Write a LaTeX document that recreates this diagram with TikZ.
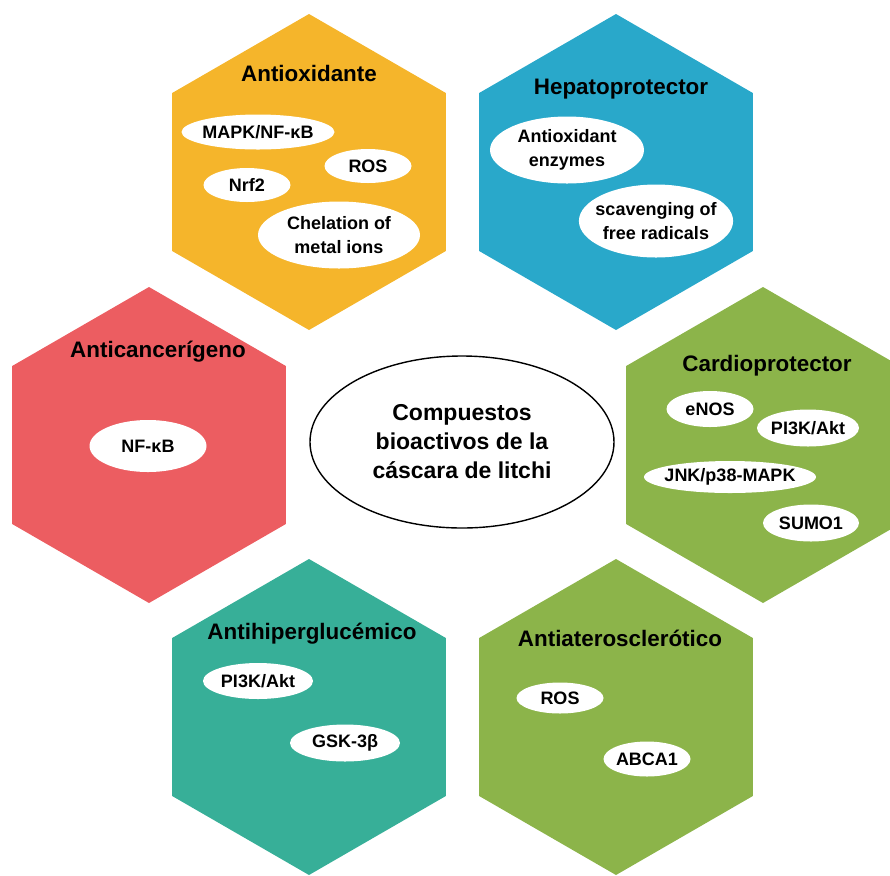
\documentclass[tikz,border=0pt]{standalone}
\usepackage{fontspec}
\setmainfont{Liberation Sans}
\usetikzlibrary{shapes.geometric}

\definecolor{hexorange}{HTML}{F5B52B}
\definecolor{hexblue}{HTML}{29A8CA}
\definecolor{hexred}{HTML}{EC5D61}
\definecolor{hexgreen}{HTML}{8CB44A}
\definecolor{hexteal}{HTML}{37AF98}

\begin{document}
\begin{tikzpicture}[x=0.5pt, y=-0.5pt,
    hexa/.style={regular polygon, regular polygon sides=6, regular polygon rotate=30,
        minimum size=158pt, inner sep=0pt, outer sep=0pt},
    hextitle/.style={font=\fontsize{11.2}{13.5}\selectfont\bfseries},
    blob/.style 2 args={ellipse, fill=white, inner ysep=0pt, inner xsep=-3pt, align=center,
        minimum width=#1*0.5pt, minimum height=#2*0.5pt,
        font=\fontsize{9}{11.7}\selectfont\bfseries},
    core/.style={ellipse, draw=black, line width=0.7pt, fill=white, inner sep=0pt,
        align=center, minimum width=152pt, minimum height=86pt,
        font=\fontsize{11.5}{14.5}\selectfont\bfseries}]

    \useasboundingbox (0,0) rectangle (890,875);

    \foreach \nm/\px/\py/\cl in {antiox/309/172/hexorange, hepato/616/172/hexblue,
        cancer/149/445/hexred, cardio/763/445/hexgreen,
        gluc/309/717/hexteal, ather/616/717/hexgreen} {
        \node[hexa, fill=\cl] (\nm) at (\px,\py) {};
    }

    \node[core] (litchi) at (462,442) {Compuestos\\bioactivos de la\\cáscara de litchi};

    \node[hextitle] (antioxT) at (309,73) {Antioxidante};
    \node[blob={153}{35}] (mapk) at (258,132) {MAPK/NF-κB};
    \node[blob={87}{34}] (ros1) at (368,166) {ROS};
    \node[blob={87}{34}] (nrf) at (247,185) {Nrf2};
    \node[blob={162}{67}] (chel) at (339,235) {Chelation of\\metal ions};

    \node[hextitle] (hepatoT) at (621,89) {Hepatoprotector};
    \node[blob={154}{67}] (enzy) at (567,150) {Antioxidant\\enzymes};
    \node[blob={154}{73}] (scav) at (656,221) {scavenging of\\free radicals};

    \node[hextitle] (cancerT) at (158,352) {Anticancerígeno};
    \node[blob={117}{52}] (nfkb) at (148,446) {NF-κB};

    \node[hextitle] (cardioT) at (767,366) {Cardioprotector};
    \node[blob={87}{36}] (enos) at (710,409) {eNOS};
    \node[blob={102}{37}] (pik1) at (808,428) {PI3K/Akt};
    \node[blob={172}{32}] (jnk) at (730,477) {JNK/p38-MAPK};
    \node[blob={96}{37}] (sumo) at (811,523) {SUMO1};

    \node[hextitle] (glucT) at (312,634) {Antihiperglucémico};
    \node[blob={110}{36}] (pik2) at (258,681) {PI3K/Akt};
    \node[blob={110}{37}] (gsk) at (345,743) {GSK-3β};

    \node[hextitle] (atherT) at (620,638) {Antiaterosclerótico};
    \node[blob={87}{31}] (ros2) at (560,698) {ROS};
    \node[blob={87}{35}] (abca) at (647,759) {ABCA1};
\end{tikzpicture}
\end{document}
